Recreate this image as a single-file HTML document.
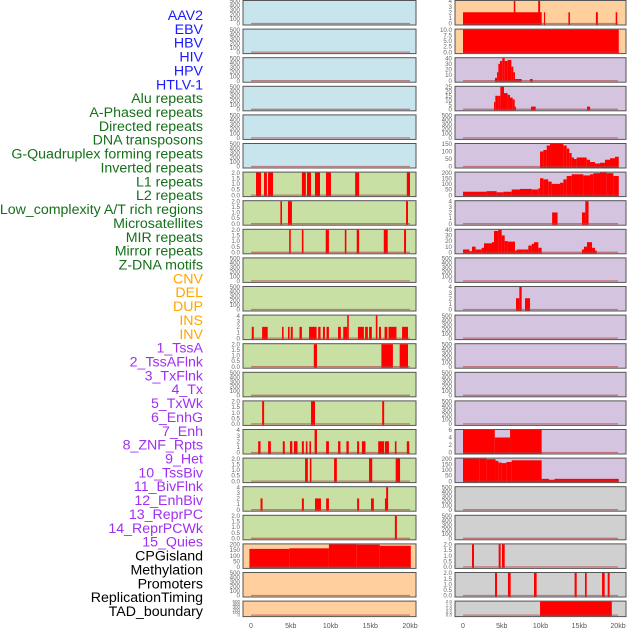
<!DOCTYPE html>
<html><head><meta charset="utf-8"><style>
html,body{margin:0;padding:0;background:#fff;}
svg{display:block;font-family:"Liberation Sans",sans-serif;}
</style></head><body>
<svg id="c" width="630" height="630" viewBox="0 0 630 630"></svg>
<script>
// ---- labels ----
const labelNames = ["AAV2","EBV","HBV","HIV","HPV","HTLV-1","Alu repeats","A-Phased repeats","Directed repeats","DNA transposons","G-Quadruplex forming repeats","Inverted repeats","L1 repeats","L2 repeats","Low_complexity A/T rich regions","Microsatellites","MIR repeats","Mirror repeats","Z-DNA motifs","CNV","DEL","DUP","INS","INV","1_TssA","2_TssAFlnk","3_TxFlnk","4_Tx","5_TxWk","6_EnhG","7_Enh","8_ZNF_Rpts","9_Het","10_TssBiv","11_BivFlnk","12_EnhBiv","13_ReprPC","14_ReprPCWk","15_Quies","CPGisland","Methylation","Promoters","ReplicationTiming","TAD_boundary"];
const labelGroups = [6,13,5,15,5];
const groupColors = ["#1a1aff","#15701a","#ffa500","#a030f0","#000000"];
const xTickLabels = ["0","5kb","10kb","15kb","20kb"];
const xTickValues = [0,5,10,15,20];
// ---- panel backgrounds ----
const leftBg = ["b","b","b","b","b","b","g","g","g","g","g","g","g","g","g","g","g","g","g","p","p","p"];
const rightBg = ["p","p","l","l","l","l","l","l","l","l","l","l","l","l","l","l","l","r","r","r","r","r"];
const bgColors = {b:"#c8e4ec",g:"#c8e0a4",p:"#ffd09e",l:"#d4c4e0",r:"#d0d0d0"};
// ---- y-max per panel (0 = empty, default 0..500 ticks) ----
const leftMax = [0,0,0,0,0,0,2,2,2,0,0,4,2,0,2,4,2,4,2,200,0,0];
const rightMax = [4,10,40,25,0,150,200,4,40,0,4,0,0,0,0,6,200,0,0,2,2,2];
// ---- data segments [startKb, endKb, value] ----
const L6=[[0.63,1.26,2],[1.64,2.0,2],[2.14,2.77,2],[6.4,6.9,2],[7.04,7.55,2],[8.05,8.68,2],[9.43,10.06,2],[13.1,13.6,2],[19.6,20,2]];
const L7=[[3.7,3.9,2],[4.65,5.15,2],[19.5,19.75,2]];
const L8=[[4.8,5.0,2],[6.4,6.6,2],[9.4,9.8,2],[11.8,12.0,2],[13.3,13.6,2],[16.7,17.2,2],[19.25,19.5,2]];
const L11=[[0.1,0.35,2],[1.4,1.7,2],[1.7,2.1,2],[3.9,4.1,2],[4.65,4.85,2],[5.0,5.25,2],[6.1,6.4,2],[7.3,8.25,2],[8.45,8.75,2],[9.05,9.3,2],[9.5,9.8,2],[10.95,11.3,2],[11.6,12.1,2],[12.1,12.3,4],[13.45,14.2,2],[14.35,14.7,2],[14.85,15.2,2],[15.7,15.9,4],[16.1,16.35,2],[16.8,17.15,2],[17.3,18.3,2],[19.0,19.75,2]];
const L12=[[7.9,8.3,2],[16.4,17.85,2],[18.7,19.75,2]];
const L14=[[1.4,1.65,2],[7.55,8.05,2],[16.5,16.75,2]];
const L15=[[0.9,1.2,2],[2.15,2.5,2],[4.0,4.25,2],[4.9,5.2,2],[5.4,5.85,2],[6.4,6.65,2],[6.9,7.1,2],[7.35,7.55,2],[8.0,8.3,4],[9.45,9.8,2],[10.95,11.25,2],[12.0,12.3,2],[13.35,13.6,2],[13.95,14.4,2],[16.0,16.75,2],[16.85,17.35,2],[18.1,18.3,2],[19.6,19.9,2]];
const L16=[[6.8,7.15,2],[7.4,7.6,2],[10.45,10.8,2],[14.85,15.25,2],[18.2,18.75,2]];
const L17=[[1.2,1.45,2],[6.4,6.65,2],[8.05,8.3,2],[8.3,8.8,2],[9.45,9.8,2],[13.35,13.6,2],[15.1,15.45,2],[16.85,17.1,2],[17.0,17.25,4]];
const L18=[[18.1,18.35,2]];
const L19=[[-0.2,4.8,160],[4.8,9.8,165],[9.8,13.3,205],[13.3,16.2,198],[16.2,20.1,188]];
const R0=[[0,10.15,2],[6.55,6.75,4],[9.7,9.95,4],[10.45,10.6,2],[13.6,13.8,2],[17.15,17.4,2],[19.7,19.9,2]];
const R1=[[0,20.1,10]];
const R2=[[4.13,4.39,5],[4.39,4.56,15],[4.56,4.77,30],[4.77,5.07,35],[5.07,5.38,40],[5.38,5.76,35],[5.76,6.24,37],[6.24,6.49,25],[6.49,6.71,15],[6.71,7.57,3],[8.65,8.99,3]];
const R3=[[4.0,4.17,8],[4.17,4.6,15],[4.6,4.82,15],[4.82,5.29,25],[5.29,5.76,18],[5.76,6.06,16],[6.06,6.41,13],[6.41,6.67,11],[6.67,6.84,3],[8.77,9.38,3],[16.0,16.4,3]];
const R5=[[9.94,10.37,100],[10.37,10.8,110],[10.8,11.23,140],[11.23,12.95,150],[12.95,13.38,140],[13.38,13.72,120],[13.72,14.02,90],[14.02,14.32,60],[14.32,14.67,50],[14.67,15.96,60],[15.96,16.39,45],[16.39,17.03,30],[17.03,17.68,20],[17.68,18.32,25],[18.32,18.97,45],[18.97,19.61,55],[19.61,20.1,65]];
const R6=[[0,3.05,30],[3.05,4.34,35],[4.34,5.2,25],[5.2,6.28,30],[6.28,7.35,50],[7.35,8.86,55],[8.86,9.72,50],[9.72,9.94,60],[9.94,10.37,150],[10.37,11.0,140],[11.0,11.44,120],[11.44,12.52,100],[12.52,12.95,110],[12.95,13.38,140],[13.38,14.02,170],[14.02,15.53,185],[15.53,16.39,175],[16.39,16.82,185],[16.82,17.68,195],[17.68,18.54,210],[18.54,19.4,195],[19.4,20.1,170]];
const R7=[[11.5,12.2,2],[15.35,15.78,2],[15.78,16.2,4]];
const R8=[[0,0.82,5],[0.82,1.16,2],[1.16,1.63,10],[1.63,2.41,5],[2.41,2.71,8],[2.71,3.74,16],[3.74,4.0,18],[4.0,4.56,38],[4.56,4.99,45],[4.99,5.38,30],[5.38,5.76,20],[5.76,6.71,19],[6.71,6.92,3],[6.92,7.78,5],[7.78,8.43,5],[8.43,8.86,12],[8.86,9.16,15],[9.16,9.72,18],[9.72,10.15,8],[15.35,15.61,5],[15.61,16.0,10],[16.0,16.65,18],[16.65,17.03,8],[17.03,17.25,3]];
const R10=[[6.84,7.27,2],[7.27,7.57,4],[8.0,8.65,2]];
const R15=[[0,4.1,6],[4.1,6.07,4],[6.07,10.15,6]];
const R16=[[0,2.1,220],[2.1,3.05,210],[3.05,4.2,195],[4.2,4.56,180],[4.56,4.99,165],[4.99,5.6,160],[5.6,6.28,170],[6.28,10.15,185],[10.15,11.1,20],[11.1,11.8,12],[11.8,20.1,20]];
const R19=[[1.16,1.42,2],[4.6,4.86,2],[5.03,5.38,2]];
const R20=[[4.13,4.39,2],[5.8,6.15,2],[9.16,9.5,2],[14.4,14.67,2],[15.74,15.96,2],[17.94,18.28,2],[18.67,18.92,2]];
const R21=[[9.94,19.2,2]];
const leftData={6:L6,7:L7,8:L8,11:L11,12:L12,14:L14,15:L15,16:L16,17:L17,18:L18,19:L19};
const rightData={0:R0,1:R1,2:R2,3:R3,5:R5,6:R6,7:R7,8:R8,10:R10,15:R15,16:R16,19:R19,20:R20,21:R21};

const NS="http://www.w3.org/2000/svg";
const svg=document.getElementById("c");
function mk(tag,attrs,parent){const e=document.createElementNS(NS,tag);for(const k in attrs)e.setAttribute(k,attrs[k]);(parent||svg).appendChild(e);return e;}
const cols=[{x0:243,x1:416,kb0:251,kb20:410,bg:leftBg,max:leftMax,data:leftData,side:"left"},
            {x0:455,x1:626,kb0:463,kb20:618,bg:rightBg,max:rightMax,data:rightData,side:"right"}];
function tickSet(m){
  if(m===0) return [0,100,200,300,400,500];
  if(m===2) return [0,0.5,1,1.5,2];
  if(m===4) return [0,1,2,3,4];
  if(m===10) return [0,2.5,5,7.5,10];
  if(m===40) return [0,10,20,30,40];
  if(m===25) return [0,5,10,15,20,25];
  if(m===150) return [0,50,100,150];
  if(m===200) return [0,50,100,150,200];
  if(m===6) return [0,2,4,6];
  return [0,m];
}
function fmt(v,m){ if(m===2||m===10) return v.toFixed(1); return String(v);}
// labels
let li=0;
labelGroups.forEach((n,g)=>{for(let k=0;k<n;k++){const i=li++;
  const t=mk("text",{x:203,y:15+i*13.86+5,"text-anchor":"end","font-size":"14.2",fill:groupColors[g]});
  
  
  t.textContent=labelNames[i];}});
// panels
cols.forEach(c=>{
  const xs=kb=>c.kb0+(kb/20)*(c.kb20-c.kb0);
  for(let i=0;i<22;i++){
    const top=0.5+i*28.6, h=(i===21)?15.5:24.5, bot=top+h;
    const g=mk("g",{});
    
    
    mk("rect",{x:c.x0,y:top,width:c.x1-c.x0,height:h,fill:bgColors[c.bg[i]],stroke:"#555","stroke-width":"1"},g);
    const m=c.max[i]; const ymax=m===0?500:m;
    const y0=bot-1.5, yTop=top+0.5;
    const ys=v=>y0-(Math.min(v,ymax)/ymax)*(y0-yTop);
    const segs=c.data[i]||[];
    segs.forEach(s=>{
      const x1=Math.max(xs(s[0]),c.x0+0.5), x2=Math.min(xs(s[1]),c.x1-0.5);
      const r=mk("rect",{x:x1,y:ys(s[2]),width:Math.max(x2-x1,1),height:bot-0.5-ys(s[2]),fill:"#ff0000"},g);
      
      
    });
    mk("line",{x1:xs(0),x2:xs(20),y1:y0,y2:y0,stroke:"#b04040","stroke-opacity":"0.6","stroke-width":"1.3"},g);
    const ts=tickSet(m);
    const fs=(i===21)?4.5:6.2;
    ts.forEach(v=>{
      const t=mk("text",{x:c.x0-3,y:ys(v)+fs*0.35,"text-anchor":"end","font-size":fs,fill:"#666"},g);
      
      
      t.textContent=fmt(v,m);
    });
  }
  xTickValues.forEach((v,k)=>{
    const t=mk("text",{x:xs(v),y:628,"text-anchor":"middle","font-size":"7",fill:"#555"});
    
    
    t.textContent=xTickLabels[k];
  });
});
</script>
</body></html>
